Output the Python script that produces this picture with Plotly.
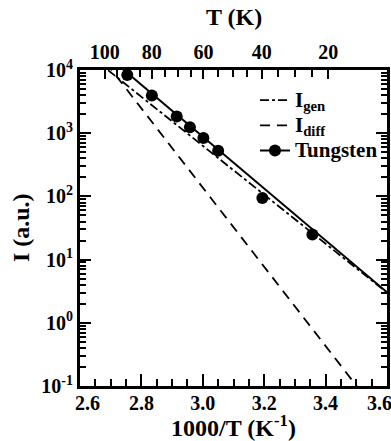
import plotly.graph_objects as go

# ---- data ----
tungsten_x = [2.754, 2.834, 2.915, 2.958, 3.002, 3.050, 3.194, 3.357]
tungsten_y = [8340, 3935, 1835, 1240, 837, 527, 94.6, 24.9]

fit_x = [2.70, 3.65]
fit_y = [15000, 1.9]

igen_x = [2.60, 3.60]
igen_y = [22400, 3.0]

idiff_x = [2.65, 3.55]
idiff_y = [21500, 0.0493]

x_ticks = [2.6, 2.8, 3.0, 3.2, 3.4, 3.6]
x_ticktext = ["&nbsp;&nbsp;&nbsp;2.6", "2.8", "3.0", "3.2", "3.4", "3.6&nbsp;&nbsp;&nbsp;"]
y_ticks = [0.1, 1, 10, 100, 1000, 10000]
y_ticktext = ["10<sup>-1</sup>", "10<sup>0</sup>", "10<sup>1</sup>", "10<sup>2</sup>",
              "10<sup>3</sup>", "10<sup>4</sup>"]
top_ticks = [2.681, 2.834, 3.002, 3.192, 3.409]
top_ticktext = ["100", "80", "60", "40", "20"]
legend_names = ["I<sub>gen</sub>", "I<sub>diff</sub>", "Tungsten"]

FONT = "Liberation Serif"

top_minor = []
for a, b in zip(top_ticks[:-1], top_ticks[1:]):
    for k in (1, 2, 3):
        top_minor.append(a + (b - a) * k / 4)


def big(s):
    return "<span style='font-size:21px'>" + s + "</span>"


fig = go.Figure()
fig.add_trace(go.Scatter(x=igen_x, y=igen_y, mode="lines", name=big(legend_names[0]),
                         line=dict(color="black", width=1.8, dash="dashdot")))
fig.add_trace(go.Scatter(x=idiff_x, y=idiff_y, mode="lines", name=big(legend_names[1]),
                         line=dict(color="black", width=1.8, dash="10px,7px")))
fig.add_trace(go.Scatter(x=fit_x, y=fit_y, mode="lines+markers", name=big(legend_names[2]),
                         line=dict(color="black", width=2),
                         marker=dict(color="black", size=12)))
fig.add_trace(go.Scatter(x=tungsten_x, y=tungsten_y, mode="markers", name=legend_names[2],
                         showlegend=False,
                         marker=dict(color="black", size=12)))
# invisible trace to activate top axis
fig.add_trace(go.Scatter(x=[tungsten_x[0]], y=[tungsten_y[0]], xaxis="x2", mode="markers",
                         marker=dict(opacity=0), showlegend=False, hoverinfo="skip"))

tickfont = dict(family=FONT, size=20, color="black", weight="bold")

fig.update_layout(
    width=391, height=441,
    margin=dict(l=80, r=4, t=70, b=55, autoexpand=False),
    paper_bgcolor="white", plot_bgcolor="white",
    showlegend=True,
    legend=dict(x=0.57, y=0.96, xanchor="left", yanchor="top",
                bgcolor="rgba(0,0,0,0)",
                font=dict(family=FONT, size=17, color="black", weight="bold"),
                tracegroupgap=0, traceorder="normal", itemwidth=30),
    xaxis=dict(range=[2.6, 3.6], tickvals=x_ticks, ticktext=x_ticktext,
               ticks="inside", ticklen=12, tickwidth=2, tickcolor="black",
               showline=True, linewidth=3, linecolor="black", mirror=True,
               showgrid=False, zeroline=False, tickfont=tickfont, automargin=False,
               ticklabeloverflow="allow", ticklabelstandoff=-3,
               minor=dict(ticks="inside", ticklen=7, tickwidth=2, tickcolor="black",
                          dtick=0.05, tick0=2.6, showgrid=False)),
    xaxis2=dict(range=[2.6, 3.6], overlaying="x", side="top", tickvals=top_ticks,
                ticktext=top_ticktext, ticks="inside", ticklen=9, tickwidth=2,
                tickcolor="black", showline=True, linewidth=3, linecolor="black",
                showgrid=False, zeroline=False, tickfont=tickfont, automargin=False,
                minor=dict(ticks="inside", ticklen=7, tickwidth=2, tickcolor="black",
                           tickvals=top_minor, showgrid=False)),
    yaxis=dict(type="log", range=[-1, 4], tickvals=y_ticks, ticktext=y_ticktext,
               ticks="inside", ticklen=11, tickwidth=2, tickcolor="black",
               showline=True, linewidth=3, linecolor="black", mirror="ticks",
               showgrid=False, zeroline=False, tickfont=tickfont, automargin=False,
               minor=dict(ticks="inside", ticklen=6, tickwidth=2, tickcolor="black",
                          dtick="D1", showgrid=False)),
    annotations=[
        dict(text="<b>T (K)</b>", x=0.5, y=1.168, xref="paper", yref="paper",
             xanchor="center", yanchor="middle",
             showarrow=False, font=dict(family=FONT, size=24, color="black")),
        dict(text="<b>1000/T (K<sup>-1</sup>)</b>", x=0.5, y=-0.127, xref="paper", yref="paper",
             xanchor="center", yanchor="middle",
             showarrow=False, font=dict(family=FONT, size=24, color="black")),
        dict(text="<b>I (a.u.)</b>", x=-0.192, y=0.5, xref="paper", yref="paper",
             xanchor="center", yanchor="middle",
             showarrow=False, textangle=-90, font=dict(family=FONT, size=24, color="black")),
    ],
)

fig.write_html("out.html")
